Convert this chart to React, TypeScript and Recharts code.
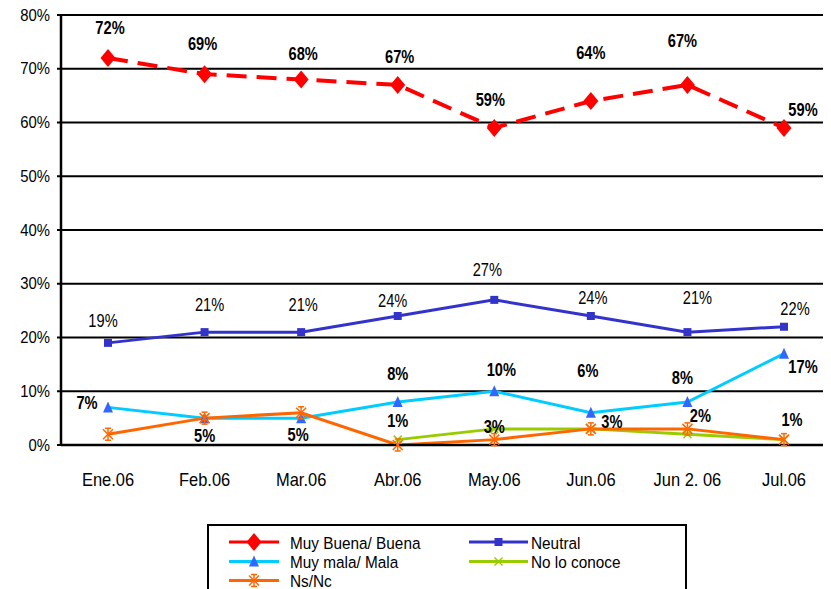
import React from "react";
import {
  LineChart,
  Line,
  XAxis,
  YAxis,
  CartesianGrid,
  Legend,
  LabelList,
} from "recharts";

const categories = ["Ene.06", "Feb.06", "Mar.06", "Abr.06", "May.06", "Jun.06", "Jun 2. 06", "Jul.06"];
const goodValues = [72, 69, 68, 67, 59, 64, 67, 59];
const neutralValues = [19, 21, 21, 24, 27, 24, 21, 22];
const badValues = [7, 5, 5, 8, 10, 6, 8, 17];
const unknownValues: (number | null)[] = [null, null, null, 1, 3, 3, 2, 1];
const nsncValues = [2, 5, 6, 0, 1, 3, 3, 1];
const yTicks = [0, 10, 20, 30, 40, 50, 60, 70, 80];

const seriesNames = {
  good: "Muy Buena/ Buena",
  neutral: "Neutral",
  bad: "Muy mala/ Mala",
  unknown: "No lo conoce",
  nsnc: "Ns/Nc",
};

// label placement offsets (relative to each point)
const goodLabelDx = [2, -2, 2, 2, -4, 0, -5, 19];
const goodLabelDy = [-30, -30, -26, -28, -28, -48, -44, -18];
const neutralLabelDx = [-5, 5, 2, -5, -7, 2, 10, 11];
const neutralLabelDy = [-22, -27, -27, -15, -30, -18, -34, -18];
const badLabelDx = [-21, 0, -3, 0, 7, -3, -5, 19];
const badLabelDy = [-5, 18, 17, -28, -21, -42, -24, 13];
const unknownLabelDx = [0, 0, 0, 0, 0, 21, 13, 8];
const unknownLabelDy = [0, 0, 0, -19, -2, -7, -18, -20];

const data = categories.map((c, i) => ({
  name: c,
  good: goodValues[i],
  neutral: neutralValues[i],
  bad: badValues[i],
  unknown: unknownValues[i],
  nsnc: nsncValues[i],
}));

const COLORS = {
  good: "#FF0000",
  neutral: "#3333CC",
  bad: "#00CCFF",
  badMarker: "#3366FF",
  unknown: "#99CC00",
  nsnc: "#FF6600",
};

const SANS = "'Liberation Sans', Arial, sans-serif";

function CondText(props: {
  x: number;
  y: number;
  sx: number;
  size: number;
  anchor?: "start" | "middle" | "end";
  bold?: boolean;
  children: React.ReactNode;
}) {
  const { x, y, sx, size, anchor = "middle", bold = false, children } = props;
  return (
    <text
      transform={`translate(${x},${y}) scale(${sx},1)`}
      x={0}
      y={0}
      textAnchor={anchor}
      dominantBaseline="central"
      fontFamily={SANS}
      fontSize={size}
      fontWeight={bold ? 700 : 400}
      fill="#000"
    >
      {children}
    </text>
  );
}

function markerShape(kind: string, cx: number, cy: number, key?: string | number) {
  switch (kind) {
    case "good":
      return (
        <polygon
          key={key}
          points={`${cx},${cy - 9} ${cx + 7.5},${cy} ${cx},${cy + 9} ${cx - 7.5},${cy}`}
          fill={COLORS.good}
        />
      );
    case "neutral":
      return <rect key={key} x={cx - 4} y={cy - 4} width={8} height={8} fill={COLORS.neutral} />;
    case "bad":
      return (
        <polygon
          key={key}
          points={`${cx},${cy - 6} ${cx + 5},${cy + 5} ${cx - 5},${cy + 5}`}
          fill={COLORS.badMarker}
        />
      );
    case "unknown":
      return (
        <g key={key} stroke={COLORS.unknown} strokeWidth={1.5}>
          <line x1={cx - 4} y1={cy - 4} x2={cx + 4} y2={cy + 4} />
          <line x1={cx - 4} y1={cy + 4} x2={cx + 4} y2={cy - 4} />
        </g>
      );
    case "nsnc":
      return (
        <g key={key} stroke={COLORS.nsnc} strokeWidth={1.5}>
          <line x1={cx - 5} y1={cy - 5} x2={cx + 5} y2={cy + 5} />
          <line x1={cx - 5} y1={cy + 5} x2={cx + 5} y2={cy - 5} />
          <line x1={cx} y1={cy - 6} x2={cx} y2={cy + 6} />
          <line x1={cx - 3} y1={cy - 6} x2={cx + 3} y2={cy - 6} />
          <line x1={cx - 3} y1={cy + 6} x2={cx + 3} y2={cy + 6} />
        </g>
      );
    default:
      return <g key={key} />;
  }
}

const makeDot = (kind: string) => (props: any) => {
  const { cx, cy, index, value } = props;
  if (cx == null || cy == null || value == null || (Array.isArray(value) && value[1] == null)) {
    return <g key={`dot-${kind}-${index}`} />;
  }
  return markerShape(kind, cx, cy, `dot-${kind}-${index}`);
};

const makeLabel = (dxs: number[], dys: number[], bold: boolean) => (props: any) => {
  const { index, value } = props;
  const x = props.x ?? props.viewBox?.x;
  const y = props.y ?? props.viewBox?.y;
  if (value == null || x == null || y == null || index == null) return null;
  return (
    <CondText key={`lbl-${index}`} x={x + dxs[index]} y={y + dys[index]} sx={0.77} size={19} bold={bold}>
      {`${value}%`}
    </CondText>
  );
};

const XTick = (props: any) => {
  const { x, y, payload } = props;
  return (
    <CondText x={x} y={y + 35} sx={0.89} size={18.5}>
      {payload.value}
    </CondText>
  );
};

const YTick = (props: any) => {
  const { x, y, payload } = props;
  return (
    <CondText x={x} y={y} sx={0.93} size={16} anchor="end">
      {`${payload.value}%`}
    </CondText>
  );
};

const legendOrder = ["good", "neutral", "bad", "unknown", "nsnc"];

const LegendBox = (props: any) => {
  const payload = props.payload || [];
  const colX = [22, 262];
  const rowY = [18, 37.5, 56.5];
  return (
    <svg width={480} height={80} style={{ display: "block" }}>
      <rect x={1} y={1} width={478} height={90} fill="#fff" stroke="#000" strokeWidth={2} />
      {payload.map((p: any, i: number) => {
        const key = String(p.dataKey);
        const idx = legendOrder.indexOf(key);
        const col = idx % 2;
        const row = Math.floor(idx / 2);
        const x0 = colX[col];
        const y0 = rowY[row];
        const lineLen = col === 0 ? 50 : 59;
        const color = (COLORS as any)[key];
        return (
          <g key={`leg-${i}`}>
            <line x1={x0} y1={y0} x2={x0 + lineLen} y2={y0} stroke={color} strokeWidth={3} />
            {markerShape(key, x0 + lineLen / 2, y0)}
            <CondText x={x0 + lineLen + (col === 0 ? 11 : 3)} y={y0 + 1} sx={0.93} size={16.5} anchor="start">
              {p.value}
            </CondText>
          </g>
        );
      })}
    </svg>
  );
};

export default function App() {
  return (
    <div style={{ width: 823, height: 589, marginTop: -8, overflow: "hidden", background: "#fff" }}>
      <LineChart
        width={840}
        height={589}
        data={data}
        margin={{ top: 15, right: 16, bottom: 114, left: 0 }}
      >
        <CartesianGrid vertical={false} stroke="#000" strokeWidth={2} />
        <XAxis
          dataKey="name"
          padding={{ left: 47, right: 48 }}
          height={30}
          tickLine={false}
          tickSize={0}
          tickMargin={0}
          axisLine={{ stroke: "#000", strokeWidth: 2.5 }}
          tick={<XTick />}
          interval={0}
        />
        <YAxis
          width={53}
          domain={[0, 80]}
          ticks={yTicks}
          tickSize={4}
          tickMargin={7}
          tickLine={{ stroke: "#000", strokeWidth: 2 }}
          axisLine={{ stroke: "#000", strokeWidth: 2.5 }}
          tick={<YTick />}
          interval={0}
        />
        <Line
          dataKey="good"
          name={seriesNames.good}
          stroke={COLORS.good}
          strokeWidth={4}
          strokeDasharray="20 10"
          dot={makeDot("good")}
          activeDot={false}
          isAnimationActive={false}
        >
          <LabelList dataKey="good" content={makeLabel(goodLabelDx, goodLabelDy, true)} />
        </Line>
        <Line
          dataKey="neutral"
          name={seriesNames.neutral}
          stroke={COLORS.neutral}
          strokeWidth={3}
          dot={makeDot("neutral")}
          activeDot={false}
          isAnimationActive={false}
        >
          <LabelList dataKey="neutral" content={makeLabel(neutralLabelDx, neutralLabelDy, false)} />
        </Line>
        <Line
          dataKey="bad"
          name={seriesNames.bad}
          stroke={COLORS.bad}
          strokeWidth={3}
          dot={makeDot("bad")}
          activeDot={false}
          isAnimationActive={false}
        >
          <LabelList dataKey="bad" content={makeLabel(badLabelDx, badLabelDy, true)} />
        </Line>
        <Line
          dataKey="unknown"
          name={seriesNames.unknown}
          stroke={COLORS.unknown}
          strokeWidth={3}
          dot={makeDot("unknown")}
          activeDot={false}
          isAnimationActive={false}
        >
          <LabelList dataKey="unknown" content={makeLabel(unknownLabelDx, unknownLabelDy, true)} />
        </Line>
        <Line
          dataKey="nsnc"
          name={seriesNames.nsnc}
          stroke={COLORS.nsnc}
          strokeWidth={3}
          dot={makeDot("nsnc")}
          activeDot={false}
          isAnimationActive={false}
        />
        <Legend
          verticalAlign="middle"
          layout="horizontal"
          wrapperStyle={{ top: 524, left: 199, width: 480, height: 80 }}
          content={(p: any) => <LegendBox {...p} />}
        />
      </LineChart>
    </div>
  );
}
